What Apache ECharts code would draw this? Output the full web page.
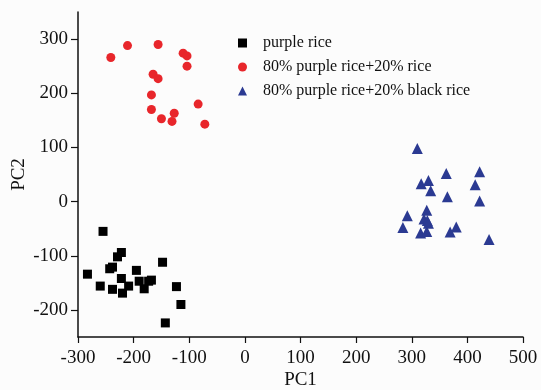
<!DOCTYPE html>
<html>
<head>
<meta charset="utf-8">
<script src="https://cdn.jsdelivr.net/npm/echarts@6/dist/echarts.min.js"></script>
<style>
  html, body { margin: 0; padding: 0; background: #fcfcfc; }
  #main { width: 541px; height: 390px; }
</style>
</head>
<body>
<div id="main"></div>
<script>
// 数据 (PC1, PC2)
var seriesNames = ['purple rice', '80% purple rice+20% rice', '80% purple rice+20% black rice'];
var purpleRice = [
    [-255, -55], [-283, -134], [-260, -156], [-238, -162], [-243, -124],
    [-238, -121], [-229, -102], [-222, -94], [-222, -142], [-220, -169],
    [-209, -156], [-195, -127], [-190, -147], [-181, -161], [-173, -147],
    [-168, -145], [-148, -112], [-123, -157], [-115, -190], [-143, -224]
];
var riceMix = [
    [-241, 266], [-211, 288], [-156, 290], [-111, 274], [-104, 269],
    [-104, 250], [-165, 235], [-156, 227], [-168, 197], [-168, 170],
    [-150, 153], [-131, 148], [-127, 163], [-84, 180], [-72, 143]
];
var blackRiceMix = [
    [310, 98], [317, 33], [330, 39], [334, 20], [362, 52],
    [364, 9], [414, 31], [422, 55], [422, 1], [292, -26],
    [284, -48], [327, -16], [322, -32], [328, -35], [330, -40],
    [316, -58], [327, -55], [369, -56], [380, -47], [439, -70]
];
var xTicks = [-300, -200, -100, 0, 100, 200, 300, 400, 500];
var yTicks = [-200, -100, 0, 100, 200, 300];

var font = '"Liberation Serif", "Times New Roman", serif';
var myChart = echarts.init(document.getElementById('main'));
var option = {
    backgroundColor: '#fcfcfc',
    animation: false,
    textStyle: { fontFamily: font },
    grid: {
        left: 78,
        right: 18,
        top: 12,
        bottom: 53,
        outerBoundsMode: 'none',
        containLabel: false
    },
    legend: {
        orient: 'vertical',
        left: 233,
        top: 30,
        itemWidth: 9,
        itemHeight: 9,
        itemGap: 8,
        textStyle: { fontFamily: font, fontSize: 16, color: '#111', padding: [0, 0, 0, 11] },
        data: [
            { name: seriesNames[0], icon: 'rect' },
            { name: seriesNames[1], icon: 'circle' },
            { name: seriesNames[2], icon: 'triangle' }
        ]
    },
    xAxis: {
        type: 'value',
        min: -300,
        max: 500,
        interval: 100,
        name: 'PC1',
        nameLocation: 'middle',
        nameGap: 34,
        nameMoveOverlap: false,
        nameTextStyle: { fontFamily: font, fontSize: 19, color: '#111' },
        axisLine: { onZero: false, lineStyle: { color: '#111', width: 1.5 } },
        axisTick: { show: true, length: 6, lineStyle: { color: '#111', width: 1.2 } },
        axisLabel: {
            fontFamily: font, fontSize: 19, color: '#111', margin: 12,
            customValues: xTicks
        },
        splitLine: { show: false }
    },
    yAxis: {
        type: 'value',
        min: -250,
        max: 350,
        name: 'PC2',
        nameLocation: 'middle',
        nameGap: 49,
        nameMoveOverlap: false,
        nameTextStyle: { fontFamily: font, fontSize: 19, color: '#111' },
        axisLine: { show: true, onZero: false, lineStyle: { color: '#111', width: 1.5 } },
        axisTick: { show: true, length: 7, lineStyle: { color: '#111', width: 1.2 }, customValues: yTicks },
        axisLabel: {
            fontFamily: font, fontSize: 19, color: '#111', margin: 10,
            customValues: yTicks
        },
        splitLine: { show: false }
    },
    series: [
        {
            name: seriesNames[0],
            type: 'scatter',
            symbol: 'rect',
            symbolSize: 9,
            itemStyle: { color: '#000000', opacity: 1 },
            data: purpleRice
        },
        {
            name: seriesNames[1],
            type: 'scatter',
            symbol: 'circle',
            symbolSize: 9,
            itemStyle: { color: '#e8262b', opacity: 1 },
            data: riceMix
        },
        {
            name: seriesNames[2],
            type: 'scatter',
            symbol: 'triangle',
            symbolSize: 11,
            itemStyle: { color: '#2b3a92', opacity: 1 },
            data: blackRiceMix
        }
    ]
};
myChart.setOption(option);
</script>
</body>
</html>
